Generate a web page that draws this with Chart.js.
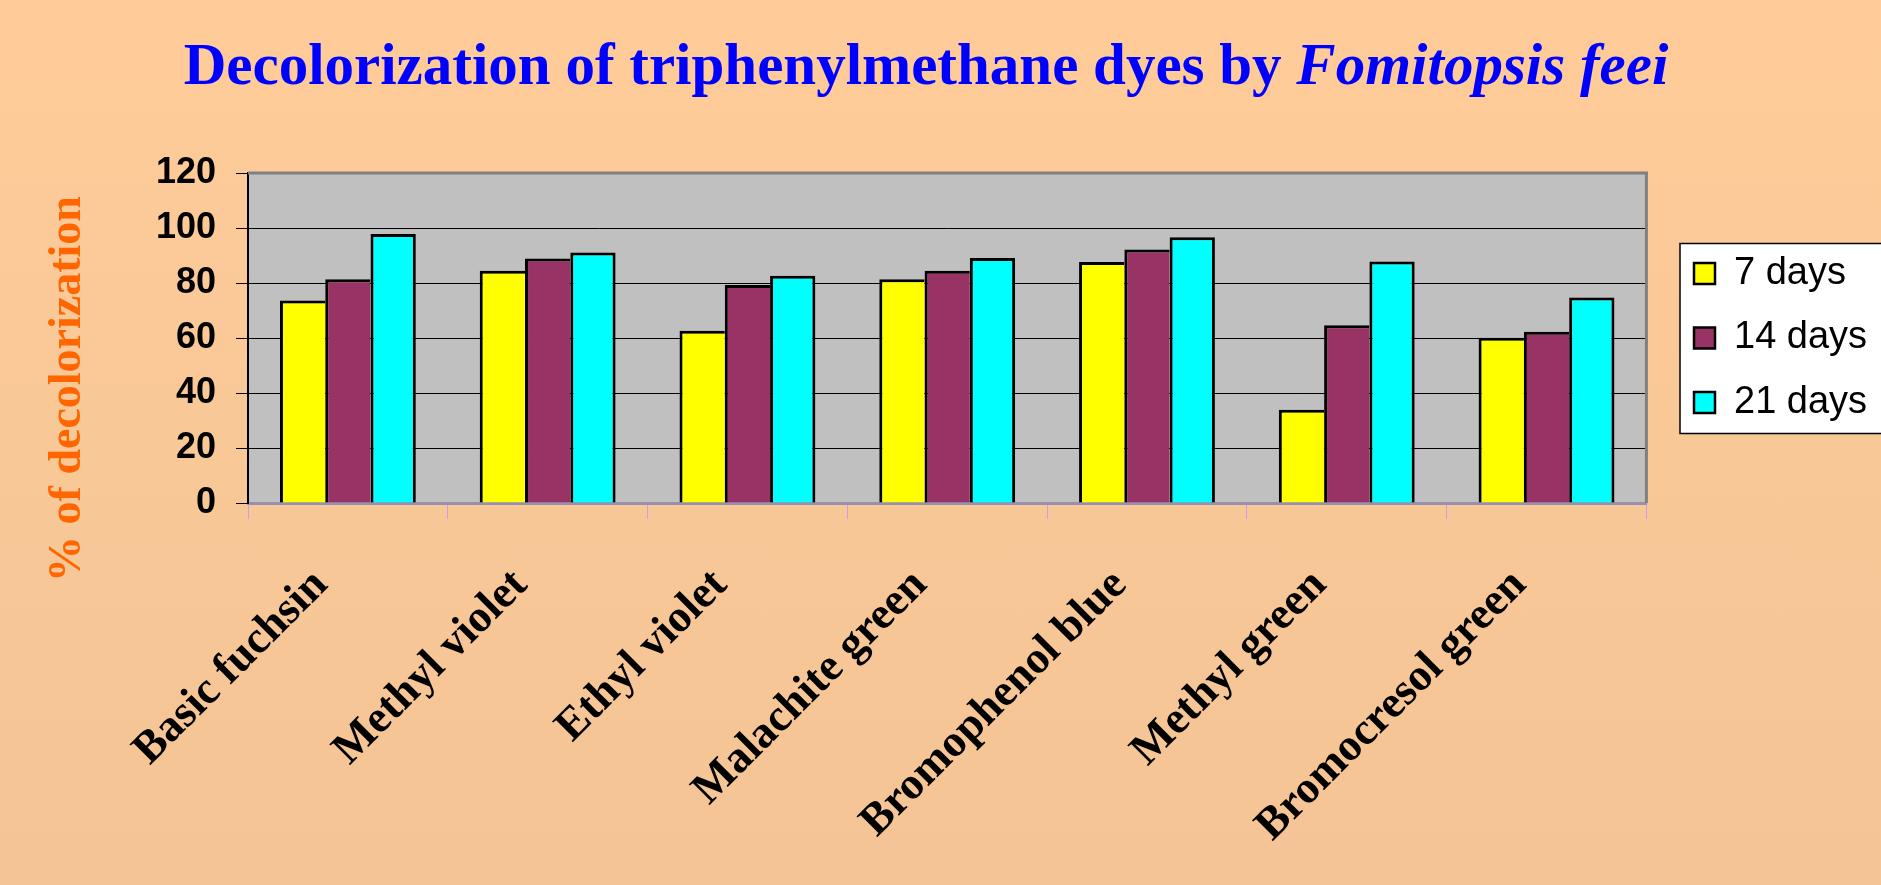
<!DOCTYPE html>
<html>
<head>
<meta charset="utf-8">
<script src="https://cdn.jsdelivr.net/npm/chart.js@4"></script>
<style>
  html, body { margin: 0; padding: 0; }
  body {
    width: 1881px;
    height: 885px;
    overflow: hidden;
    background: linear-gradient(to bottom, #ffcc99 0%, #f9c897 50%, #f4c496 100%);
  }
  canvas { display: block; }
</style>
</head>
<body>
<canvas id="dyeChart" width="1881" height="885"></canvas>
<script>
const categories = [
  "Basic fuchsin",
  "Methyl violet",
  "Ethyl violet",
  "Malachite green",
  "Bromophenol blue",
  "Methyl green",
  "Bromocresol green",
];
const seriesNames = ["7 days", "14 days", "21 days"];
const days7 = [73.6, 84.5, 62.6, 81.4, 87.6, 33.9, 60.1];
const days14 = [81.4, 88.9, 79.3, 84.5, 92.2, 64.6, 62.3];
const days21 = [97.8, 91.1, 82.6, 89.1, 96.6, 87.8, 74.7];
const yMin = 0;
const yMax = 120;
const yStep = 20;

const titleMain = "Decolorization of triphenylmethane dyes by ";
const titleItalic = "Fomitopsis feei";
const yTitle = "% of decolorization";

const serif = '"Liberation Serif", "Times New Roman", serif';
const sans = '"Liberation Sans", Arial, sans-serif';

// plot background, legend frame, titles and the grey frame
const decorPlugin = {
  id: "decor",
  afterLayout(chart) {
    const lg = chart.legend;
    const shift = 1694 - (lg.left + lg.options.labels.padding);
    lg.left += shift;
    lg.right += shift;
  },
  beforeDraw(chart) {
    const { ctx, chartArea: a } = chart;
    ctx.save();
    ctx.fillStyle = "#c0c0c0";
    ctx.fillRect(a.left, a.top, a.right - a.left, a.bottom - a.top);

    const boxes = chart.legend.legendHitBoxes;
    if (boxes && boxes.length) {
      const first = boxes[0];
      const last = boxes[boxes.length - 1];
      const x = first.left - 14;
      const y = first.top - 11;
      const h = last.top + last.height + 12 - y;
      ctx.fillStyle = "#ffffff";
      ctx.fillRect(x, y, chart.width - x + 10, h);
      ctx.strokeStyle = "#000000";
      ctx.lineWidth = 1.5;
      ctx.strokeRect(x, y, chart.width - x + 10, h);
    }
    ctx.restore();
  },
  afterDraw(chart) {
    const { ctx, chartArea: a } = chart;
    ctx.save();
    ctx.strokeStyle = "#808080";
    ctx.lineWidth = 3;
    ctx.beginPath();
    ctx.moveTo(a.left, a.top);
    ctx.lineTo(a.right, a.top);
    ctx.lineTo(a.right, a.bottom);
    ctx.stroke();

    ctx.fillStyle = "#0000ff";
    ctx.textBaseline = "alphabetic";
    ctx.font = "bold 59px " + serif;
    const w1 = ctx.measureText(titleMain).width;
    ctx.font = "italic bold 59px " + serif;
    const w2 = ctx.measureText(titleItalic).width;
    const x0 = 926 - (w1 + w2) / 2;
    ctx.font = "bold 59px " + serif;
    ctx.fillText(titleMain, x0, 84);
    ctx.font = "italic bold 59px " + serif;
    ctx.fillText(titleItalic, x0 + w1, 84);

    ctx.translate(68, 389);
    ctx.rotate(-Math.PI / 2);
    ctx.fillStyle = "#ff6600";
    ctx.font = "bold 46px " + serif;
    ctx.textAlign = "center";
    ctx.textBaseline = "middle";
    ctx.fillText(yTitle, 0, 0);
    ctx.restore();
  },
};

const ctx = document.getElementById("dyeChart");

new Chart(ctx, {
  type: "bar",
  data: {
    labels: categories,
    datasets: [
      {
        label: seriesNames[0],
        data: days7,
        backgroundColor: "#ffff00",
        borderColor: "#000000",
        borderWidth: { left: 3, top: 3, right: 0, bottom: 0 },
      },
      {
        label: seriesNames[1],
        data: days14,
        backgroundColor: "#993366",
        borderColor: "#000000",
        borderWidth: { left: 3, top: 3, right: 0, bottom: 0 },
      },
      {
        label: seriesNames[2],
        data: days21,
        backgroundColor: "#00ffff",
        borderColor: "#000000",
        borderWidth: { left: 3, top: 3, right: 3, bottom: 0 },
      },
    ],
  },
  options: {
    responsive: false,
    animation: false,
    devicePixelRatio: 1,
    layout: { padding: { top: 173, left: 0, right: 25, bottom: 0 } },
    datasets: {
      bar: { categoryPercentage: 0.68, barPercentage: 1.0, borderSkipped: "start" },
    },
    plugins: {
      title: { display: false },
      tooltip: { enabled: false },
      legend: {
        position: "right",
        fullSize: false,
        align: "center",
        labels: {
          color: "#000000",
          font: { family: sans, size: 38 },
          boxWidth: 21,
          boxHeight: 21,
          padding: 26.5,
          generateLabels(chart) {
            return chart.data.datasets.map((ds, i) => ({
              text: ds.label,
              fillStyle: ds.backgroundColor,
              strokeStyle: "#000000",
              lineWidth: 2.5,
              hidden: false,
              datasetIndex: i,
              fontColor: "#000000",
            }));
          },
        },
      },
    },
    scales: {
      x: {
        afterFit(scale) { scale.height = 382; },
        grid: {
          display: true,
          drawOnChartArea: false,
          drawTicks: true,
          tickLength: 16,
          color: "#c8a0f0",
          lineWidth: 1,
          offset: true,
        },
        border: { display: true, color: "#9890b0", width: 3 },
        ticks: {
          autoSkip: false,
          minRotation: 45,
          maxRotation: 45,
          padding: 40,
          labelOffset: -27,
          color: "#000000",
          font: { family: serif, size: 45, weight: "bold" },
        },
      },
      y: {
        min: yMin,
        max: yMax,
        afterFit(scale) { scale.width = 248; },
        grid: {
          color: "#000000",
          lineWidth: 1,
          tickLength: 12,
          drawTicks: true,
        },
        border: { display: true, color: "#000000", width: 2 },
        ticks: {
          stepSize: yStep,
          padding: 20,
          color: "#000000",
          font: { family: sans, size: 36, weight: "bold" },
        },
      },
    },
  },
  plugins: [decorPlugin],
});
</script>
</body>
</html>
